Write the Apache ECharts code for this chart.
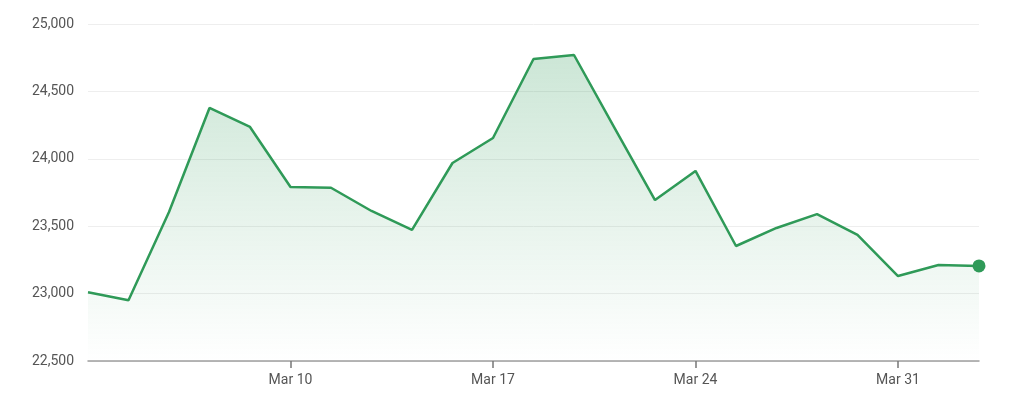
<!DOCTYPE html>
<html><head><meta charset="utf-8">
<script src="https://cdn.jsdelivr.net/npm/echarts@6/dist/echarts.min.js"></script>
<style>html,body{margin:0;padding:0;background:#fff}#c{width:1011px;height:412px}</style>
</head><body><div id="c"></div>
<script>
const categories = ["Mar 3","Mar 4","Mar 5","Mar 6","Mar 7","Mar 10","Mar 11","Mar 12","Mar 13","Mar 14","Mar 17","Mar 18","Mar 19","Mar 20","Mar 21","Mar 24","Mar 25","Mar 26","Mar 27","Mar 28","Mar 31","Apr 1","Apr 2"];
const values = [23010,22950,23605,24377,24236,23791,23785,23613,23472,23969,24154,24740,24770,24230,23694,23910,23353,23487,23590,23435,23130,23212,23205];
const tickLabels = ["Mar 10","Mar 17","Mar 24","Mar 31"];
const show = (i, v) => tickLabels.includes(categories[i]);
const chart = echarts.init(document.getElementById('c'));
chart.setOption({
  animation:false,
  grid:{left:88,right:32,top:24,bottom:51},
  xAxis:{type:'category',data:categories,boundaryGap:false,
    axisLine:{lineStyle:{color:'#9e9e9e',width:1.5}},
    axisTick:{show:true,interval:show,length:7,lineStyle:{color:'#777',width:1.5}},
    axisLabel:{interval:show,color:'#555',fontSize:14,margin:12,fontFamily:'Roboto'}},
  yAxis:{type:'value',min:22500,max:25000,interval:500,
    axisLabel:{color:'#555',fontSize:14,fontFamily:'Roboto',margin:14,
      formatter:v=>v.toLocaleString('en-US')},
    splitLine:{lineStyle:{color:'#eeeeee'}}},
  series:[{type:'line',data:values,smooth:false,
    lineStyle:{color:'#2f9a58',width:2.5},
    itemStyle:{color:'#2f9a58'},
    symbol:(v,p)=>p.dataIndex===values.length-1?'circle':'none',
    symbolSize:13,showSymbol:true,
    areaStyle:{origin:'start',color:new echarts.graphic.LinearGradient(0,0,0,1,[
      {offset:0,color:'rgba(47,154,88,0.35)'},{offset:1,color:'rgba(47,154,88,0.0)'}])}
  }]
});
</script></body></html>
